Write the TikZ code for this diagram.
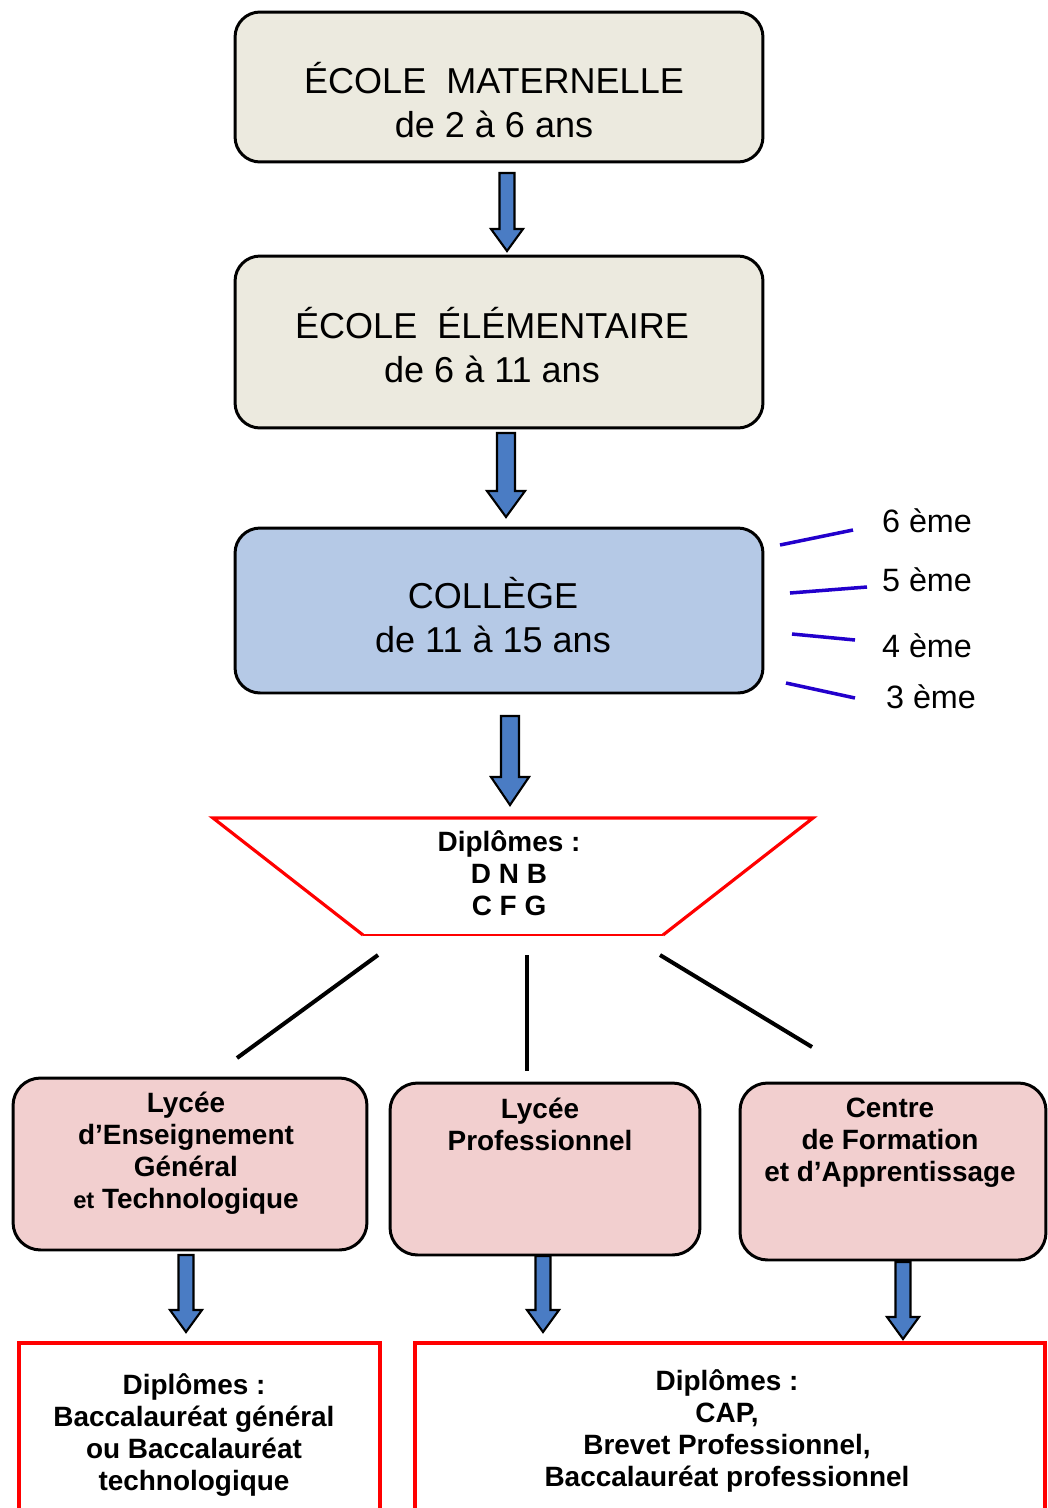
\documentclass[tikz,border=0pt]{standalone}
\usepackage{fontspec}
\setmainfont{Liberation Sans}
\usetikzlibrary{calc}
\definecolor{beigebox}{HTML}{ECEADF}
\definecolor{bluebox}{HTML}{B5C9E6}
\definecolor{pinkbox}{HTML}{F2CFCF}
\definecolor{arrowblue}{HTML}{4A7CC4}
\definecolor{gradeblue}{HTML}{2200CC}
\definecolor{redline}{HTML}{FF0000}
\newcommand{\blockarrow}[5]{%
  \draw[blockarr] ($(#1)+(-#3,0)$) -- ($(#2)+(-#3,-#5)$) -- ($(#2)+(-#4,-#5)$) -- (#2)
    -- ($(#2)+(#4,-#5)$) -- ($(#2)+(#3,-#5)$) -- ($(#1)+(#3,0)$) -- cycle;}
\tikzset{
  topbox/.style={draw=black, line width=1.7pt, rounded corners=0.5cm, inner sep=0pt},
  lycbox/.style={draw=black, line width=1.7pt, fill=pinkbox, rounded corners=0.55cm, inner sep=0pt},
  dipbox/.style={draw=redline, line width=2pt, fill=white, inner sep=0pt},
  bigtxt/.style={align=center, font=\fontsize{20.5}{25}\selectfont, inner sep=0pt},
  boldtxt/.style={align=center, font=\fontsize{15.9}{18.2}\selectfont\bfseries, inner sep=0pt},
  gradetxt/.style={font=\fontsize{18.4}{22}\selectfont, inner sep=0pt},
  gradeline/.style={draw=gradeblue, line width=2pt},
  branch/.style={draw=black, line width=2.3pt},
  blockarr/.style={draw=black, fill=arrowblue, line width=1.2pt, line join=miter},
}
\begin{document}
\begin{tikzpicture}[x=0.02cm,y=-0.02cm]
\useasboundingbox (0,0) rectangle (1048,1508);
\clip (0,0) rectangle (1048,1508);

% top boxes
\node[topbox, fill=beigebox, minimum width=10.56cm, minimum height=3.0cm] (mat) at (499,87) {};
\node[bigtxt] (matt) at (494,100) {ÉCOLE\ \ MATERNELLE\\de 2 à 6 ans};

\node[topbox, fill=beigebox, minimum width=10.56cm, minimum height=3.44cm] (elem) at (499,342) {};
\node[bigtxt] (elemt) at (492,345) {ÉCOLE\ \ ÉLÉMENTAIRE\\de 6 à 11 ans};

\node[topbox, fill=bluebox, minimum width=10.56cm, minimum height=3.3cm] (col) at (499,610.5) {};
\node[bigtxt] (colt) at (493,615) {COLLÈGE\\de 11 à 15 ans};

% grades
\node[gradetxt] (g6) at (927,521) {6 ème};
\node[gradetxt] (g5) at (927,580) {5 ème};
\node[gradetxt] (g4) at (927,646) {4 ème};
\node[gradetxt] (g3) at (931,697) {3 ème};
\coordinate (g6a) at (780,545); \coordinate (g6b) at (853,530);
\coordinate (g5a) at (790,593); \coordinate (g5b) at (867,587);
\coordinate (g4a) at (792,634); \coordinate (g4b) at (855,640);
\coordinate (g3a) at (786,683); \coordinate (g3b) at (855,698);
\draw[gradeline] (g6a) -- (g6b);
\draw[gradeline] (g5a) -- (g5b);
\draw[gradeline] (g4a) -- (g4b);
\draw[gradeline] (g3a) -- (g3b);

% arrows between top boxes
\coordinate (a1s) at (507,173); \coordinate (a1e) at (507,251);
\blockarrow{a1s}{a1e}{7.5}{16}{22}
\coordinate (a2s) at (506,433); \coordinate (a2e) at (506,517);
\blockarrow{a2s}{a2e}{9}{19}{26}
\coordinate (a3s) at (510,716); \coordinate (a3e) at (510,805);
\blockarrow{a3s}{a3e}{9}{19}{28}

% trapezoid
\coordinate (tz1) at (213,818); \coordinate (tz2) at (813,818);
\coordinate (tz3) at (663,935); \coordinate (tz4) at (363,935);
\draw[redline, line width=1.8pt, line join=miter] (tz4) -- (tz1) -- (tz2) -- (tz3);
\draw[redline, line width=1.1pt] (tz3) -- (tz4);
\node[boldtxt] (dnb) at (509,873) {Diplômes :\\D N B\\C F G};

% lycée boxes
\node[lycbox, minimum width=7.08cm, minimum height=3.44cm] (lgt) at (190,1164) {};
\node[boldtxt] (lgtt) at (186,1153) {Lycée\\d’Enseignement\\Général\\{\fontsize{13.5}{18.2}\selectfont et} Technologique};
\node[lycbox, minimum width=6.2cm, minimum height=3.44cm] (lp) at (545,1169) {};
\node[boldtxt] (lpt) at (540,1124) {Lycée\\Professionnel};
\node[lycbox, minimum width=6.12cm, minimum height=3.54cm] (cfa) at (893,1171.5) {};
\node[boldtxt] (cfat) at (890,1143) {Centre\\de Formation\\et d’Apprentissage};

% branches
\coordinate (b1a) at (378,955); \coordinate (b1b) at (237,1058);
\coordinate (b2a) at (527,955); \coordinate (b2b) at (527,1071);
\coordinate (b3a) at (660,955); \coordinate (b3b) at (812,1047);
\draw[branch] (b1a) -- (b1b);
\draw[branch] (b2a) -- (b2b);
\draw[branch] (b3a) -- (b3b);

% bottom arrows
\coordinate (a4s) at (186,1255); \coordinate (a4e) at (186,1332);
\blockarrow{a4s}{a4e}{7.5}{16}{22}
\coordinate (a5s) at (543,1256); \coordinate (a5e) at (543,1332);
\blockarrow{a5s}{a5e}{7.5}{16}{22}
\coordinate (a6s) at (903,1262); \coordinate (a6e) at (903,1339);
\blockarrow{a6s}{a6e}{7.5}{16}{22}

% diploma boxes
\node[dipbox, minimum width=7.22cm, minimum height=3.74cm] (bac) at (199.5,1436.5) {};
\node[boldtxt] (bact) at (194,1435) {Diplômes :\\Baccalauréat général\\ou Baccalauréat\\technologique};
\node[dipbox, minimum width=12.6cm, minimum height=3.74cm] (pro) at (730,1436.5) {};
\node[boldtxt] (prot) at (727,1431) {Diplômes :\\CAP,\\Brevet Professionnel,\\Baccalauréat professionnel};
\end{tikzpicture}
\end{document}
